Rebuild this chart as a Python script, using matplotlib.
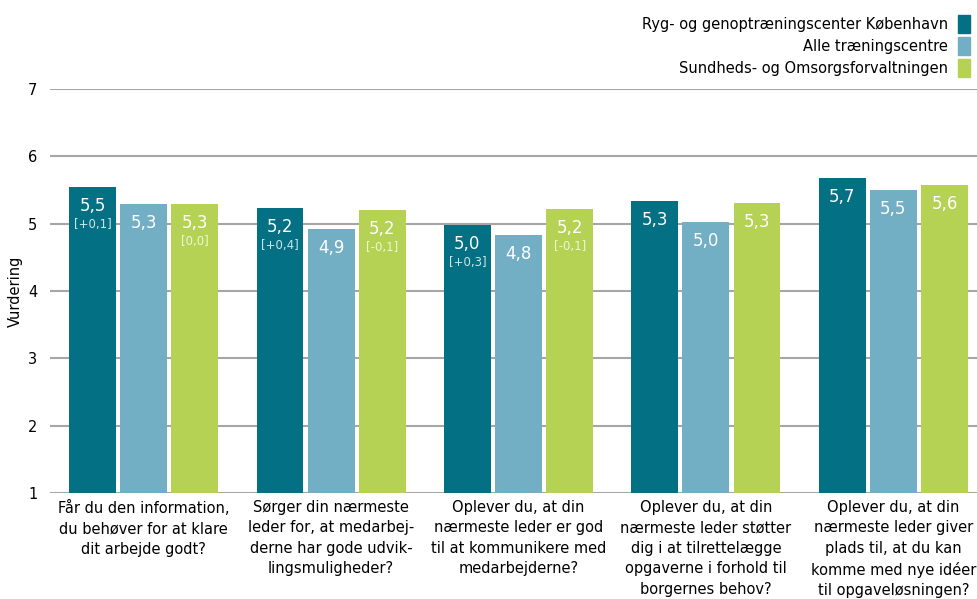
import matplotlib
matplotlib.use("Agg")
import matplotlib.pyplot as plt
import numpy as np

categories = [
    "Får du den information,\ndu behøver for at klare\ndit arbejde godt?",
    "Sørger din nærmeste\nleder for, at medarbej-\nderne har gode udvik-\nlingsmuligheder?",
    "Oplever du, at din\nnærmeste leder er god\ntil at kommunikere med\nmedarbejderne?",
    "Oplever du, at din\nnærmeste leder støtter\ndig i at tilrettelægge\nopgaverne i forhold til\nborgernes behov?",
    "Oplever du, at din\nnærmeste leder giver\nplads til, at du kan\nkomme med nye idéer\ntil opgaveløsningen?",
]
series_names = ["Ryg- og genoptræningscenter København", "Alle træningscentre",
                "Sundheds- og Omsorgsforvaltningen"]
ryg = [5.54, 5.23, 4.98, 5.34, 5.68]
alle = [5.29, 4.92, 4.83, 5.03, 5.50]
suf = [5.29, 5.20, 5.22, 5.31, 5.58]
ryg_diff = ["[+0,1]", "[+0,4]", "[+0,3]", "", ""]
suf_diff = ["[0,0]", "[-0,1]", "[-0,1]", "", ""]
yticks = [1, 2, 3, 4, 5, 6, 7]

colors = ["#037083", "#72AFC5", "#B6D254"]
diff_colors = ["#cfe3e8", None, "#eef6d6"]

W, H = 978, 599
fig = plt.figure(figsize=(W / 100, H / 100), dpi=100)
left, right, bottom, top = 50, 987, 493, 89
ax = fig.add_axes([left / W, (H - bottom) / H, (right - left) / W, (bottom - top) / H])

x = np.arange(len(categories))
bw = 0.25
step = 0.273
for i, (vals, col) in enumerate(zip([ryg, alle, suf], colors)):
    xs = x + (i - 1) * step
    ax.bar(xs, np.array(vals) - 1, bottom=1, width=bw, color=col, zorder=3)
    for j, v in enumerate(vals):
        lbl = f"{v:.1f}".replace(".", ",")
        ax.annotate(lbl, (xs[j], v), xytext=(0, -10), textcoords="offset pixels",
                    ha="center", va="top", color="white", fontsize=12, zorder=4)
        d = None
        if i == 0:
            d = ryg_diff[j]
        elif i == 2:
            d = suf_diff[j]
        if d:
            ax.annotate(d, (xs[j], v), xytext=(0, -31), textcoords="offset pixels",
                        ha="center", va="top", color=diff_colors[i], fontsize=8.5, zorder=4)

ax.set_xlim(-0.5, len(categories) - 0.5)
ax.set_ylim(1, 7)
ax.set_yticks(yticks)
ax.set_yticklabels([str(t) for t in yticks], fontsize=10.5)
ax.yaxis.grid(True, color="#a6a6a6", linewidth=1.5, zorder=0)
ax.tick_params(axis="y", length=0, pad=9)
ax.tick_params(axis="x", length=0, pad=5)
ax.set_xticks(x)
ax.set_xticklabels(categories, fontsize=10.5, linespacing=1.45)
for s in ["top", "right", "left", "bottom"]:
    ax.spines[s].set_visible(False)
ax.set_ylabel("Vurdering", fontsize=10.5, labelpad=4)

# legend
for k, (name, col) in enumerate(zip(series_names, colors)):
    yc = 24 + k * 22
    fig.text(948 / W, 1 - yc / H, name, ha="right", va="center", fontsize=10.5)
    fig.patches.append(plt.Rectangle((958 / W, 1 - (yc + 9) / H), 12 / W, 18 / H,
                                     transform=fig.transFigure, color=col, figure=fig))

fig.savefig("out.png", dpi=100)
